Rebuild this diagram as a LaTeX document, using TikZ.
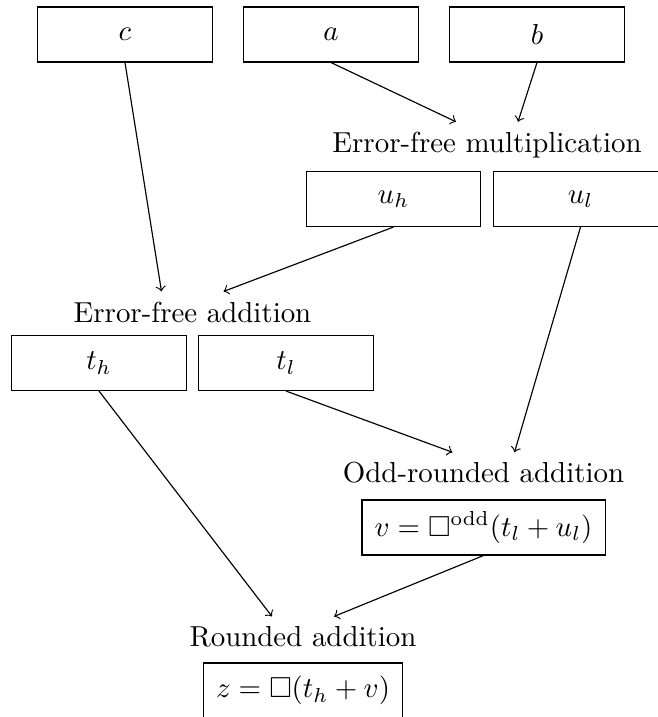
\documentclass[tikz,border=0pt]{standalone}
\usepackage{amssymb}
\usetikzlibrary{calc}
\begin{document}
\begin{tikzpicture}[x=0.346pt,y=-0.346pt,
  box/.style={draw, minimum width=60.3pt, minimum height=19pt, inner sep=0pt},
  eqbox/.style={draw, minimum height=19pt, inner xsep=4.4pt, inner ysep=2pt},
  lbl/.style={inner sep=3.33pt},
  arr/.style={->}]
\useasboundingbox (0,0) rectangle (658,717);
% top row
\node[box] (c) at (125,34.5) {$c$};
\node[box] (a) at (331,34.5) {$a$};
\node[box] (b) at (537,34.5) {$b$};
% multiplication
\node[lbl] (efm) at (487,145) {Error-free multiplication};
\node[box] (uh) at (393.5,199) {$u_h$};
\node[box] (ul) at (580.5,199) {$u_l$};
% addition
\node[lbl] (efa) at (192.5,312) {Error-free addition};
\node[box] (th) at (99,363) {$t_h$};
\node[box] (tl) at (286,363) {$t_l$};
% odd-rounded
\node[lbl] (ora) at (483.5,473) {Odd-rounded addition};
\node[eqbox] (v) at (483.5,527.5) {$v=\square^{\mathrm{odd}}(t_l+u_l)$};
% rounded
\node[lbl] (ra) at (303,637) {Rounded addition};
\node[eqbox] (z) at (303,690.5) {$z=\square(t_h+v)$};
% arrows
\draw[arr] (a.south) -- ($(efm.north)+(-31,0)$);
\draw[arr] (b.south) -- ($(efm.north)+(31,0)$);
\draw[arr] (c.south) -- ($(efa.north)+(-31,0)$);
\draw[arr] (uh.south) -- ($(efa.north)+(31,0)$);
\draw[arr] (tl.south) -- ($(ora.north)+(-31,0)$);
\draw[arr] (ul.south) -- ($(ora.north)+(31,0)$);
\draw[arr] (th.south) -- ($(ra.north)+(-31,0)$);
\draw[arr] (v.south) -- ($(ra.north)+(31,0)$);
\end{tikzpicture}
\end{document}
